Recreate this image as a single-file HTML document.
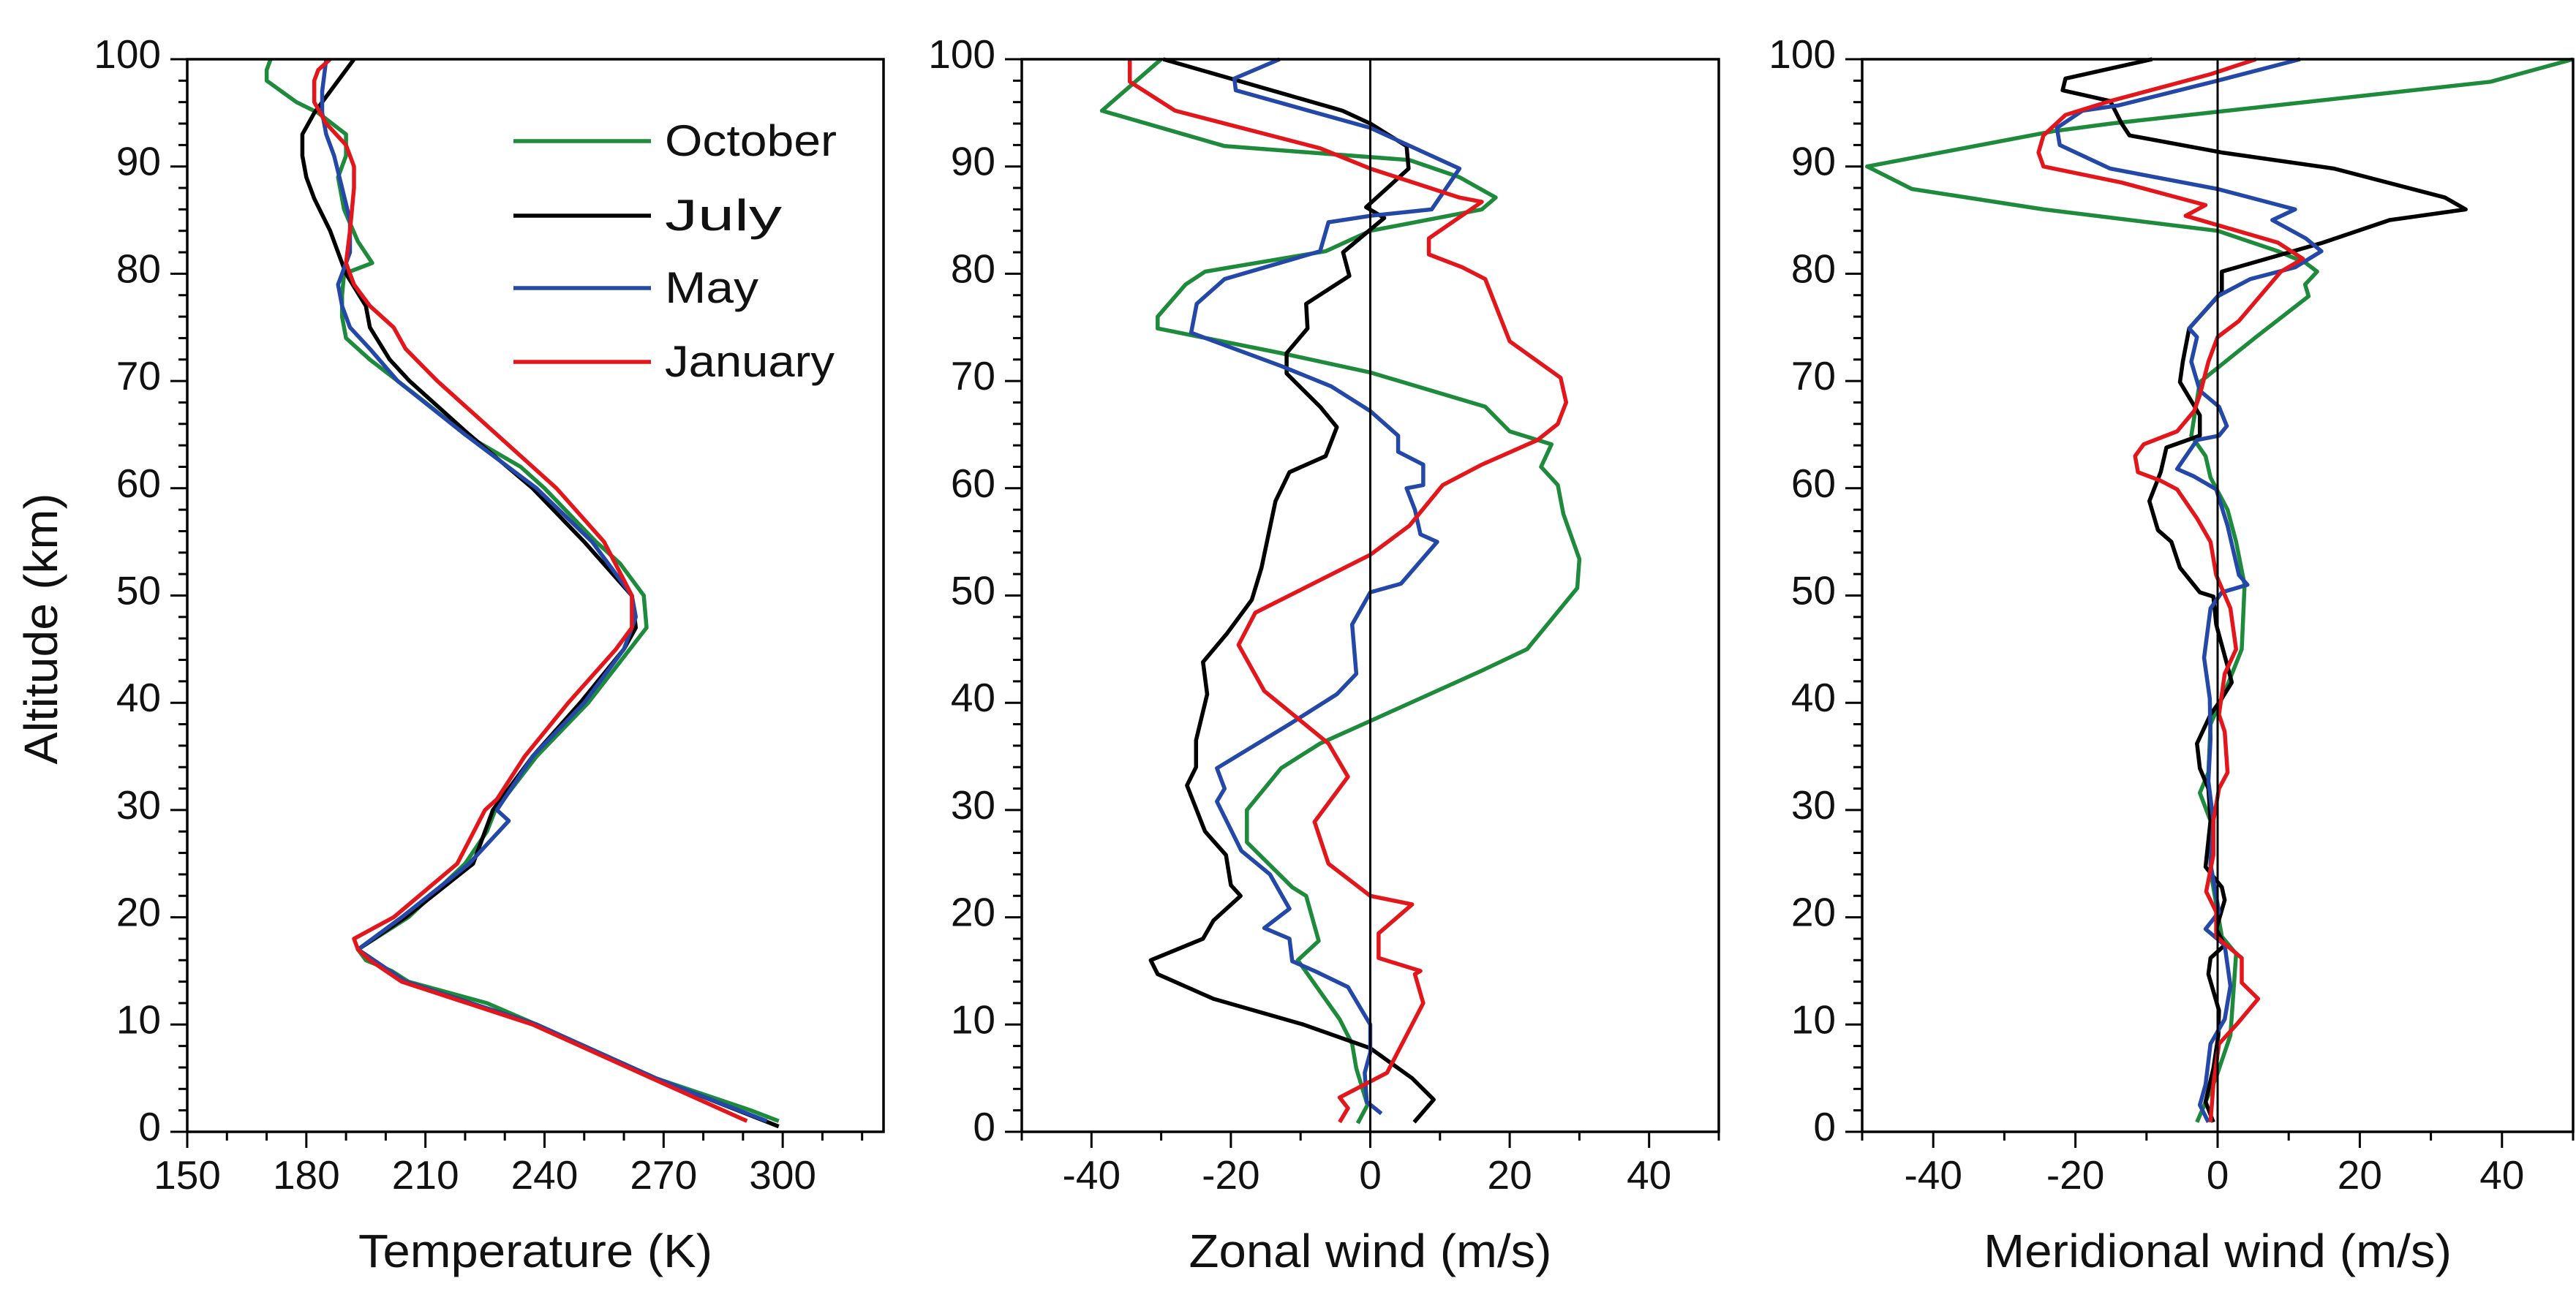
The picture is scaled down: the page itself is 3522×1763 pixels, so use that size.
<!DOCTYPE html>
<html><head><meta charset="utf-8"><style>
html,body{margin:0;padding:0;background:#fff;}
svg{display:block;}
text{font-family:"Liberation Sans","DejaVu Sans",sans-serif;fill:#111;}
</style></head><body>
<svg id="chart" width="3522" height="1763" viewBox="0 0 3522 1763" xmlns="http://www.w3.org/2000/svg"></svg>
<script>
// ---------- data ----------
const tOctAlt=[1,2,5,10,12,14,15,16,17,20,25,28,30,35,40,45,47,50,53,55,60,62,65,68,70,72,74,76,78,80,81,83,86,89,91,93,95,96,98,99,100];
const tOctVal=[299,292,268,238,225.5,205.7,201.5,195,193,205.7,220,225.5,227.6,238,251,261.5,265.7,265,259,253,240,234,220,210,203,196,190,189,189,189.5,196.6,193,189.5,188,190,190,183,177.5,170,170,171];
const tJulAlt=[0.5,5,10,14,17,20,25,30,35,40,45,47,50,55,60,65,70,72,75,77,80,82,84,87,89,91,93,95,97,100];
const tJulVal=[299,268,238,205,193,205,222,227,237,249,260,263,262,250,237,221,206,201,196,195,190,188,186,182,180,179,179,182,186,192];
const tMayAlt=[1,5,10,14,17,20,25,29,30,35,40,45,48,50,55,60,65,70,73,75,77,79,80,82,85,88,91,93,95,97,100];
const tMayVal=[296,268,238,205,193,204,221,231,228,237,250,260,263,262,252,238,220,203,196,191,189,188,189,191,191,189,187,185,184,184,185];
const tJanAlt=[1,5,10,14,16,17,18,20,25,30,31,35,40,45,47,50,55,60,65,70,73,75,77,79,81,84,88,90,92,94,96,98,99,100];
const tJanVal=[291,267,237,204,196,193,192,202,218,225,228,235,246,258,262,262,255,243,228,213,205,202,196,192,190,191,192,192,190,185,182,182,183,186];

const uJulAlt=[0.9,3,5,7.8,10,12.4,14.7,16,18,19.7,22,23,25.8,28,32.3,34,36.5,40.8,43.8,46.5,49.6,52.6,58.8,61.5,63,65.7,67.6,70.7,72.6,74.9,77.2,79.8,82,85.2,86.2,89.8,91.9,94,95.2,100];
const uJulVal=[6.3,9.1,6,0,-9.6,-22.5,-30.5,-31.5,-24,-22.5,-18.6,-20,-20.7,-23.7,-26.3,-25,-25,-23.4,-24,-20.5,-17,-15.6,-13.6,-11.6,-6.4,-4.8,-7.2,-12,-12,-9,-9.2,-3,-3.9,2,-0.6,5.5,5.2,0,-4,-29.7];
const uOctAlt=[0.8,2.5,5.9,8.2,10.5,16,17.8,22,22.8,27,30,33.9,36.2,38.3,43,45,50.7,53.4,57.6,60.3,62,64.1,65.3,67.6,70.8,72.6,74.9,76,79,80.2,82.1,84,86,87.1,89,90.6,91.9,95.2,100];
const uOctVal=[-1.8,-0.4,-2,-2.6,-4.4,-10.4,-7.4,-9.2,-11.2,-17.7,-17.7,-12.8,-7.2,0,16,22.5,29.7,30,27.7,26.9,24.5,26,20,16.5,0,-12.8,-30.5,-30.5,-26.5,-23.7,-6.4,0,16,18,12.8,5.6,-20.9,-38.5,-30];
const uMayAlt=[1.7,2.8,5.5,7.4,10,13.5,15,15.9,18,19,20.8,24,26.2,30.8,32,33.9,38,40.8,42.7,47.3,50.3,51.1,55,55.7,58,60,60.3,62.2,63.4,64.9,67.2,69.5,71.4,74.5,77.2,79.5,82.1,84.8,85.4,86,89.8,93.6,97.1,98.2,100];
const uMayVal=[1.6,-0.5,-0.8,0,0,-3.2,-8,-11.2,-11.6,-15.2,-11.6,-14.4,-18.5,-22,-20.9,-22,-11.6,-4.8,-2,-2.6,0,4.4,9.6,7.2,6.4,5.2,7.6,7.6,4,4,0,-5.6,-12.8,-25.7,-24.9,-20.9,-7.2,-6,0,8.8,12.8,0,-19.3,-19.5,-13];
const uJanAlt=[0.9,2.2,3.2,5.5,12,14.7,15,16.2,18.5,21.2,22,25,28.9,33.1,36.2,41.1,45.4,48.4,53.8,56.5,60.3,62.2,64.5,66,68,70.3,73.7,79.5,80.6,81.8,83.3,86.7,87.1,89.8,91.7,95.2,97.9,100];
const uJanVal=[-4.4,-3.2,-4.4,2.4,7.6,6.4,7.2,1.2,1.2,6,0,-6,-8,-3.2,-6,-15.2,-18.9,-16.5,0,5.6,10.4,16,24,26.9,28.1,27.3,20,16.5,13.2,8.4,8.4,16,12.8,0,-7.2,-28,-34.5,-34.5];

const vOctAlt=[0.9,5.1,9,16.6,18.2,24.3,29,31.6,33.5,38,41,45,51,55,58,61,63,64.9,69.9,74.1,77.9,79,80.2,81,82.1,84,86,87.9,90,93.3,94,96.3,97.9,100];
const vOctVal=[-2.9,-0.2,1.8,2.6,0.6,-1,-1,-2.5,-1.3,-1,1,3.4,3.8,2.6,1.4,-1,-1.7,-3.7,-2.5,5.4,12.8,12.3,14,12.4,8.5,0,-24.5,-43,-49.3,-23,-15,16.4,38.4,50];
const vJulAlt=[0.9,2.8,5.9,9,11.3,14.7,16.2,17.4,18.9,21.6,22.8,24.7,29,32,33.9,36.2,38.9,40.4,41.9,43.4,47.3,49.9,50.3,52.6,55,56.1,58.8,61.5,63.8,64.9,66.8,69.9,71.8,74.9,78.3,80.2,82.9,85,86,87.1,89.8,91.3,92.9,94,96.1,97.1,98.2,100];
const vJulVal=[-0.6,-1.7,-0.6,0.1,0.2,-1.3,-1,1,-0.2,1,0.6,-1.7,-1,-1.3,-2.5,-2.9,-1,0.6,2,1.4,-0.2,-0.6,-2.5,-5.3,-6.5,-8.4,-9.6,-8,-7.2,-2.5,-2.5,-5.3,-4.9,-4,0.6,0.6,14.8,24.2,34.9,32,16.4,0.6,-12.4,-13.5,-15.1,-21.8,-21.4,-9.2];
const vMayAlt=[0.9,2.5,4.4,8.2,10.5,13.6,17.4,18.9,20.5,25,29,32.7,36.6,40.4,44.2,48.8,50.3,51,51.9,56.5,59.9,61.1,61.8,64.5,64.9,65.8,67.6,69.1,71.8,74.1,74.9,77.9,79.5,80.6,82.1,83.3,85,86,87.9,89.8,92,93.6,95.2,95.7,98,100];
const vMayVal=[-1.3,-2.5,-1.7,-1,1,1.8,1,-1.7,0.2,-1,-0.6,-1.3,-1,-1.1,-1.9,-1,0.6,4.2,3,1.4,-0.2,-3.3,-5.7,-2.9,0.2,1.3,0.2,-2.5,-3.7,-2.9,-4,0,4.6,10.9,14.6,12.4,7.7,10.9,0,-15.1,-22.2,-22.6,-19,-13.9,0,11.6];
const vJanAlt=[0.9,4.4,8.2,10.1,12.4,13.9,16.2,18.2,20.5,22.4,25.8,29,32,33.5,37.3,38.9,42.7,45,48.8,51.9,55,57.2,59.9,60.7,61.5,63,64.1,65.3,67.2,68.7,71.8,74.1,75.6,80.2,81.4,82.9,85.4,86.4,88.5,90,91.3,92.9,94.8,96.1,98.6,100];
const vJanVal=[-1,-0.6,0.2,2.8,5.7,3.4,3.4,-0.2,-0.2,-1.6,-0.6,-0.6,0.2,1.4,1,0.2,1,2.6,1.8,-0.2,-1,-2.9,-5.7,-8,-11.2,-11.6,-10.4,-5.7,-3.3,-2.5,-1.3,0,3,8.9,12,8.5,-4.5,-1.7,-13.5,-24.5,-25.2,-24.5,-21.4,-15.1,-1,5.4];

const tempTicks=[150,180,210,240,270,300];
const windTicks=[-40,-20,0,20,40];
const altTicks=[0,10,20,30,40,50,60,70,80,90,100];
const legendNames=["October","July","May","January"];
const colors={oct:"#1e8a3c",jul:"#000000",may:"#2448a8",jan:"#e3161b"};

// ---------- drawing ----------
const NS="http://www.w3.org/2000/svg";
const svg=document.getElementById('chart');
const TOP=81,BOT=1548;
function el(tag,attrs,parent){const e=document.createElementNS(NS,tag);for(const k in attrs)e.setAttribute(k,attrs[k]);(parent||svg).appendChild(e);return e;}
function yS(a){return BOT-(a/100)*(BOT-TOP);}

const panels=[
 {key:'temperature',L:256,R:1208,min:150,max:325.4,minorStep:10,ticks:tempTicks,title:'Temperature (K)',titleW:484,zero:false,
  series:[['october',tOctAlt,tOctVal,colors.oct],['july',tJulAlt,tJulVal,colors.jul],['may',tMayAlt,tMayVal,colors.may],['january',tJanAlt,tJanVal,colors.jan]]},
 {key:'zonal-wind',L:1397,R:2350,min:-50,max:50,minorStep:10,ticks:windTicks,title:'Zonal wind (m/s)',titleW:496,zero:true,
  series:[['october',uOctAlt,uOctVal,colors.oct],['july',uJulAlt,uJulVal,colors.jul],['may',uMayAlt,uMayVal,colors.may],['january',uJanAlt,uJanVal,colors.jan]]},
 {key:'meridional-wind',L:2546,R:3518,min:-50,max:50,minorStep:10,ticks:windTicks,title:'Meridional wind (m/s)',titleW:640,zero:true,
  series:[['october',vOctAlt,vOctVal,colors.oct],['july',vJulAlt,vJulVal,colors.jul],['may',vMayAlt,vMayVal,colors.may],['january',vJanAlt,vJanVal,colors.jan]]}
];

panels.forEach((p,pi)=>{
  const g=el('g',{});
  
  
  const xS=v=>p.L+(v-p.min)/(p.max-p.min)*(p.R-p.L);
  p.series.forEach(s=>{
    const pts=s[1].map((a,i)=>xS(s[2][i]).toFixed(1)+','+yS(a).toFixed(1)).join(' ');
    const pl=el('polyline',{points:pts,fill:'none',stroke:s[3],'stroke-width':5.5,'stroke-linejoin':'round'},g);
    
    
  });
  if(p.zero){
    const z=el('line',{x1:xS(0),x2:xS(0),y1:TOP,y2:BOT,stroke:'#000','stroke-width':3},g);
    
    
  }
  const fr=el('rect',{x:p.L,y:TOP,width:p.R-p.L,height:BOT-TOP,fill:'none',stroke:'#000','stroke-width':3.5},g);
  
  
  for(let a=0;a<=100;a+=2){
    const major=a%10===0;
    el('line',{x1:p.L,x2:p.L-(major?23:12),y1:yS(a),y2:yS(a),stroke:'#000','stroke-width':3},g);
  }
  altTicks.forEach(a=>{
    const t=el('text',{x:p.L-36,y:yS(a)+12,'text-anchor':'end','font-size':55},g);
    t.textContent=a;
    
    
  });
  for(let v=Math.ceil(p.min/p.minorStep)*p.minorStep;v<=p.max+0.01;v+=p.minorStep){
    const major=p.ticks.indexOf(v)>=0;
    el('line',{x1:xS(v),x2:xS(v),y1:BOT,y2:BOT+(major?22:12),stroke:'#000','stroke-width':3},g);
  }
  p.ticks.forEach(v=>{
    const t=el('text',{x:xS(v),y:1626,'text-anchor':'middle','font-size':55},g);
    t.textContent=v;
    
    
  });
  const tt=el('text',{x:(p.L+p.R)/2,y:1733,'text-anchor':'middle','font-size':64,textLength:p.titleW,lengthAdjust:'spacingAndGlyphs'},g);
  tt.textContent=p.title;
  
  
});

const yt=el('text',{x:0,y:0,'text-anchor':'middle','font-size':64,transform:'translate(78,860) rotate(-90)',textLength:371,lengthAdjust:'spacingAndGlyphs'});
yt.textContent='Altitude (km)';



const lg=el('g',{});


const legCols=[colors.oct,colors.jul,colors.may,colors.jan];
const legY=[193,295,394,495];
const legW=[235,160,128,232];
legendNames.forEach((n,i)=>{
  const y=legY[i];
  const e=el('g',{},lg);
  
  
  el('line',{x1:702,x2:890,y1:y,y2:y,stroke:legCols[i],'stroke-width':5.5},e);
  const t=el('text',{x:909,y:y+20,'font-size':60,textLength:legW[i],lengthAdjust:'spacingAndGlyphs'},e);
  t.textContent=n;
});
</script>
</body></html>
